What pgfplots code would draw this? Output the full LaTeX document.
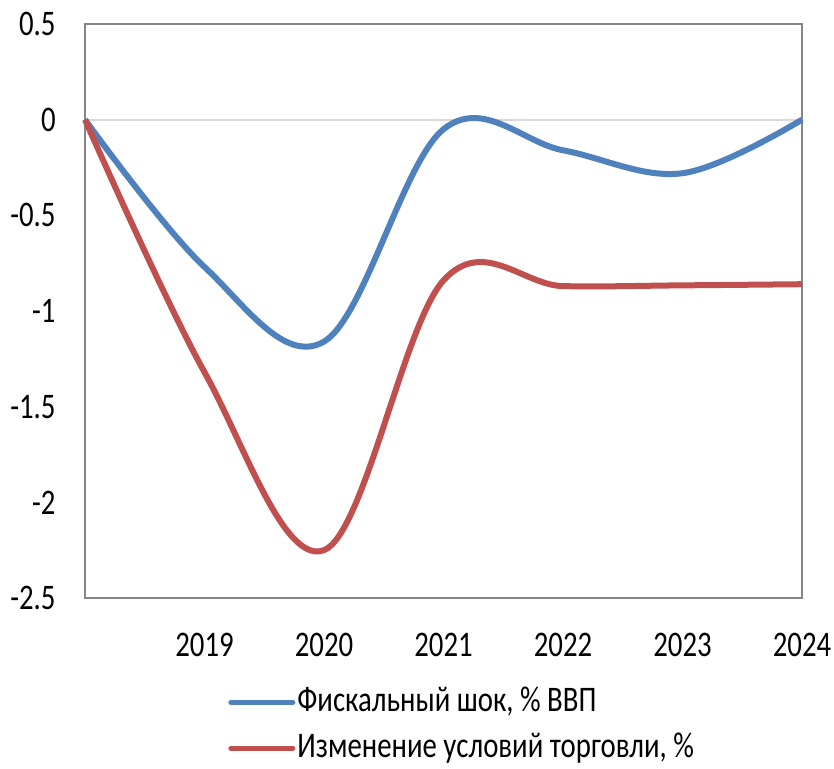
\documentclass[border=0pt]{standalone}
\usepackage{fontspec}
\setmainfont{Carlito}[FakeStretch=0.8]
\usepackage{pgfplots}
\pgfplotsset{compat=1.18}
\definecolor{exblue}{HTML}{4F81BD}
\definecolor{exred}{HTML}{C0504D}
\definecolor{axgray}{HTML}{868686}
\definecolor{zerogray}{HTML}{D9D9D9}
\begin{document}
\fontsize{18pt}{21pt}\selectfont
\begin{tikzpicture}
\useasboundingbox (-42.5pt,-85.5pt) rectangle (374.5pt,299pt);
\begin{axis}[
  at={(0,0)}, anchor=south west,
  scale only axis,
  width=358.5pt, height=287pt,
  xmin=2018, xmax=2024,
  ymin=-2.5, ymax=0.5,
  xtick={2019,2020,2021,2022,2023,2024},
  xticklabels={2019,2020,2021,2022,2023,2024},
  ytick={-2.5,-2,-1.5,-1,-0.5,0,0.5},
  yticklabels={-2.5,-2,-1.5,-1,-0.5,0,0.5},
  major tick length=0pt,
  axis line style={axgray, line width=1pt},
  tick label style={font=\fontsize{18pt}{21pt}\selectfont, text=black},
  yticklabel style={anchor=east, xshift=-8.5pt},
  xticklabel style={anchor=north, yshift=-11.5pt},
  clip=false,
  legend style={at={(0.1994,-0.155)}, anchor=north west, draw=none, fill=none,
    inner sep=0pt, row sep=8pt, font=\fontsize{18pt}{21pt}\selectfont,
    nodes={inner xsep=1pt, inner ysep=0pt}},
  legend cell align=left,
  legend image code/.code={\draw[#1, line width=2.5pt, line cap=round] (0pt,0pt) -- (31pt,0pt);},
]
\draw[zerogray, line width=1pt] (axis cs:2018,0) -- (axis cs:2024,0);
\addplot[exblue, line width=3pt, smooth, tension=0.6, line join=round] coordinates {
(2018,0) (2019,-0.77) (2020,-1.16) (2021,-0.05) (2022,-0.16) (2023,-0.28) (2024,0)
};
\addlegendentry{Фискальный шок, \% ВВП}
\addplot[exred, line width=3pt, smooth, tension=0.6, line join=round] coordinates {
(2018,0) (2019,-1.32) (2020,-2.25) (2021,-0.84) (2022,-0.87) (2023,-0.866) (2024,-0.86)
};
\addlegendentry{Изменение условий торговли, \%}
\end{axis}
\end{tikzpicture}
\end{document}
